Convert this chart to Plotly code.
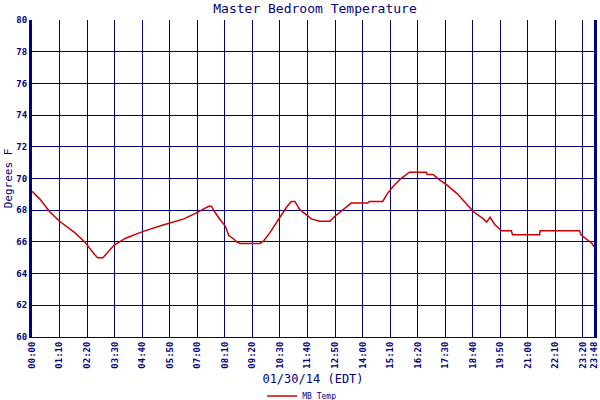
import plotly.graph_objects as go

# minutes since midnight and temperature readings (deg F)
minutes = [0, 20, 45, 70, 108, 134, 159, 167, 180, 209, 239, 281, 331, 356, 386,
           415, 427, 449, 456, 464, 478, 491, 500, 512, 520, 529, 579, 588, 605,
           626, 647, 659, 668, 680, 693, 710, 731, 757, 769, 790, 811, 853, 857,
           891, 903, 916, 935, 959, 1002, 1004, 1019, 1034, 1054, 1080, 1101,
           1122, 1147, 1155, 1164, 1176, 1193, 1218, 1221, 1290, 1291, 1391,
           1395, 1408, 1423, 1428]
temps = [69.2, 68.7, 67.9, 67.3, 66.6, 66.0, 65.2, 65.0, 65.0, 65.8, 66.25, 66.65,
         67.05, 67.25, 67.45, 67.8, 67.95, 68.25, 68.25, 67.9, 67.4, 67.0, 66.4,
         66.2, 66.0, 65.9, 65.9, 66.05, 66.6, 67.4, 68.2, 68.55, 68.55, 68.05,
         67.8, 67.45, 67.3, 67.3, 67.6, 68.0, 68.45, 68.45, 68.55, 68.55, 69.05,
         69.45, 69.95, 70.4, 70.4, 70.25, 70.25, 69.95, 69.6, 69.05, 68.5, 67.9,
         67.45, 67.25, 67.55, 67.1, 66.7, 66.7, 66.45, 66.45, 66.7, 66.7, 66.45,
         66.2, 65.9, 65.7]

tick_vals = [0, 70, 140, 210, 280, 350, 420, 490, 560, 630, 700, 770, 840, 910,
             980, 1050, 1120, 1190, 1260, 1330, 1400, 1427.5]
tick_text = ["00:00", "01:10", "02:20", "03:30", "04:40", "05:50", "07:00", "08:10",
             "09:20", "10:30", "11:40", "12:50", "14:00", "15:10", "16:20", "17:30",
             "18:40", "19:50", "21:00", "22:10", "23:20", "23:48"]

navy = "#000080"
mono = "DejaVu Sans Mono"

fig = go.Figure()
fig.add_trace(go.Scatter(
    x=minutes, y=temps, mode="lines", name="MB Temp",
    line=dict(color="#cc0000", width=1.5)
))

fig.update_layout(
    width=600, height=400,
    margin=dict(l=32, r=6, t=20, b=63, autoexpand=False),
    paper_bgcolor="white", plot_bgcolor="white",
    title=dict(text="Master Bedroom Temperature", x=0.525, xanchor="center",
               y=0.99, yanchor="top", font=dict(family=mono, size=13, color=navy)),
    showlegend=True,
    legend=dict(orientation="h", x=0.48, xanchor="center", y=-0.14, yanchor="top",
                font=dict(family=mono, size=8, color=navy), itemwidth=30),
    xaxis=dict(
        range=[0, 1428], tickmode="array", tickvals=tick_vals, ticktext=tick_text,
        tickangle=-90, tickfont=dict(family=mono, size=9, color=navy, weight="bold"),
        showgrid=True, gridcolor=navy, gridwidth=1, zeroline=False, automargin=False,
        showline=True, linecolor=navy, linewidth=1, ticks="",
        ticklabeloverflow="allow",
        title=dict(text="01/30/14 (EDT)", font=dict(family=mono, size=12, color=navy),
                   standoff=6)
    ),
    yaxis=dict(
        range=[60, 80], dtick=2, tick0=60, automargin=False,
        tickfont=dict(family=mono, size=9, color=navy, weight="bold"),
        showgrid=True, gridcolor=navy, gridwidth=1, zeroline=False,
        showline=True, linecolor=navy, linewidth=3, mirror=True, ticks="",
        title=dict(text="Degrees F", font=dict(family=mono, size=11, color=navy),
                   standoff=2)
    ),
)

# drop the default page margin so the 600x400 figure fills the window
fig.write_html("out.html", config={"displayModeBar": False},
               post_script="document.body.style.margin='0';")
